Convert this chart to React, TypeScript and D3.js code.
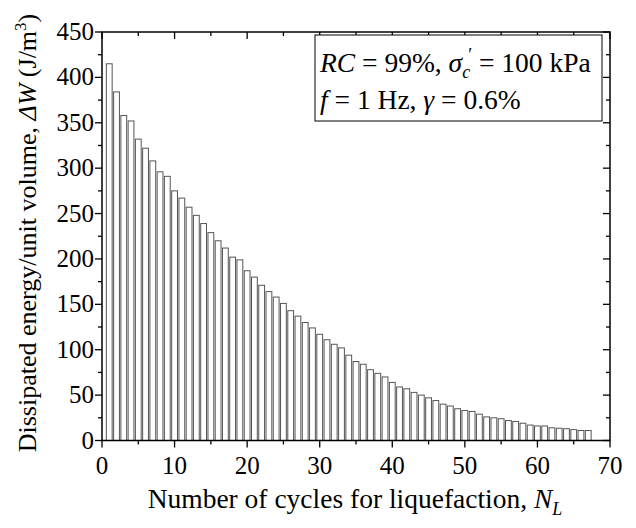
import React from "react";
import * as d3 from "d3";

const cycles: number[] = Array.from({ length: 67 }, (_, i) => i + 1);
const energy: number[] = [
  415, 384, 358, 352, 332, 322, 308, 296, 291, 275,
  267, 257, 248, 239, 229, 220, 212, 202, 199, 187,
  180, 171, 164, 158, 151, 143, 137, 130, 124, 117,
  111, 106, 102, 94, 87, 84, 78, 74, 70, 64,
  59, 57, 53, 50, 47, 44, 40, 38, 35, 33,
  32, 29, 26, 25, 24, 22, 21, 19, 17, 16,
  16, 14, 13.5, 13, 12, 11, 11,
];
const xTicks: number[] = [0, 10, 20, 30, 40, 50, 60, 70];
const xMinor: number[] = [5, 15, 25, 35, 45, 55, 65];
const yTicks: number[] = [0, 50, 100, 150, 200, 250, 300, 350, 400, 450];
const yMinor: number[] = [25, 75, 125, 175, 225, 275, 325, 375, 425];

const W = 636;
const H = 528;
const L = 102, R = 610, T = 32, B = 440.5;
const FONT = "'Liberation Serif', 'Times New Roman', serif";

export default function App() {
  const x = d3.scaleLinear().domain([0, 70]).range([L, R]);
  const y = d3.scaleLinear().domain([0, 450]).range([B, T]);
  const bw = x(0.8) - x(0);
  const data = cycles.map((c, i) => ({ c, v: energy[i] }));
  const major = 7, minor = 4;
  const tf = 25;
  const lf = 27.5;
  const yf = 26;
  return (
    <svg width={W} height={H} style={{ position: "absolute", left: 0, top: 0, background: "#fff" }} fontFamily={FONT}>
      <rect x={0} y={0} width={W} height={H} fill="#fff" />
      <g>
        {data.map((d) => (
          <rect
            key={d.c}
            x={x(d.c) - bw / 2}
            y={y(d.v)}
            width={bw}
            height={y(0) - y(d.v)}
            fill="#fff"
            stroke="#555"
            strokeWidth={1}
          />
        ))}
      </g>
      <rect x={L} y={T} width={R - L} height={B - T} fill="none" stroke="#000" strokeWidth={1.5} />
      {xTicks.map((t) => (
        <g key={"xt" + t}>
          <line x1={x(t)} x2={x(t)} y1={B} y2={B + major} stroke="#000" strokeWidth={1.3} />
          <line x1={x(t)} x2={x(t)} y1={T} y2={T + major} stroke="#000" strokeWidth={1.3} />
          <text x={x(t)} y={B + 33} textAnchor="middle" fontSize={tf}>{t}</text>
        </g>
      ))}
      {xMinor.map((t) => (
        <g key={"xm" + t}>
          <line x1={x(t)} x2={x(t)} y1={B} y2={B + minor} stroke="#000" strokeWidth={1.3} />
          <line x1={x(t)} x2={x(t)} y1={T} y2={T + minor} stroke="#000" strokeWidth={1.3} />
        </g>
      ))}
      {yTicks.map((t) => (
        <g key={"yt" + t}>
          <line x1={L - major} x2={L} y1={y(t)} y2={y(t)} stroke="#000" strokeWidth={1.3} />
          <line x1={R - major} x2={R} y1={y(t)} y2={y(t)} stroke="#000" strokeWidth={1.3} />
          <text x={L - 8} y={y(t) + 8} textAnchor="end" fontSize={tf}>{t}</text>
        </g>
      ))}
      {yMinor.map((t) => (
        <g key={"ym" + t}>
          <line x1={L - minor} x2={L} y1={y(t)} y2={y(t)} stroke="#000" strokeWidth={1.3} />
          <line x1={R - minor} x2={R} y1={y(t)} y2={y(t)} stroke="#000" strokeWidth={1.3} />
        </g>
      ))}
      <rect x={315} y={35} width={287} height={86} fill="#fff" stroke="#000" strokeWidth={1} />
      <text x={320} y={72} fontSize={lf}>
        <tspan fontStyle="italic">RC</tspan>
        <tspan> = 99%, </tspan>
        <tspan fontStyle="italic">σ</tspan>
        <tspan fontStyle="italic" fontSize={18} dy={6}>c</tspan>
        <tspan fontSize={18} dy={-17} dx={-2}>′</tspan>
        <tspan dy={11}> = 100 kPa</tspan>
      </text>
      <text x={320} y={109} fontSize={lf}>
        <tspan fontStyle="italic">f</tspan>
        <tspan> = 1 Hz, </tspan>
        <tspan fontStyle="italic">γ</tspan>
        <tspan> = 0.6%</tspan>
      </text>
      <text x={355} y={508} textAnchor="middle" fontSize={lf}>
        <tspan>Number of cycles for liquefaction, </tspan>
        <tspan fontStyle="italic">N</tspan>
        <tspan fontStyle="italic" fontSize={18} dy={7}>L</tspan>
      </text>
      <text transform={`translate(36, ${233}) rotate(-90)`} textAnchor="middle" fontSize={yf}>
        <tspan>Dissipated energy/unit volume, </tspan>
        <tspan fontStyle="italic">ΔW</tspan>
        <tspan> (J/m</tspan>
        <tspan fontSize={17} dy={-10}>3</tspan>
        <tspan dy={10}>)</tspan>
      </text>
    </svg>
  );
}
